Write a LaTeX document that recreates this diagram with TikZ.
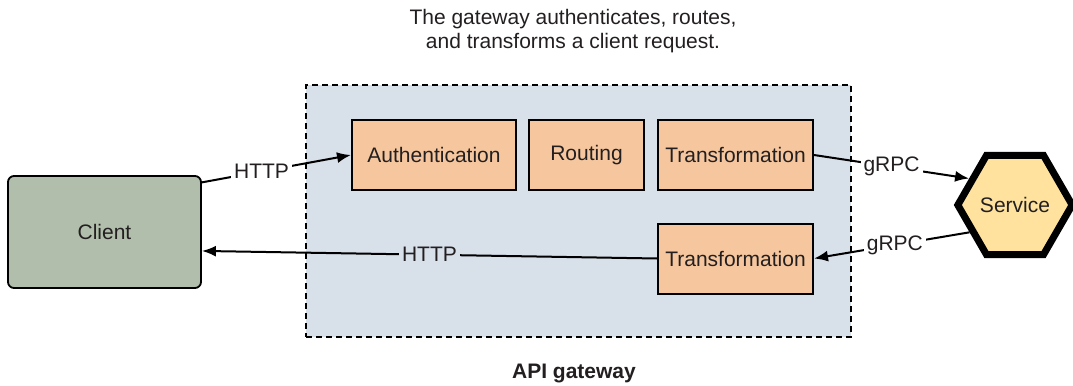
\documentclass[tikz,border=0pt]{standalone}
\usepackage{fontspec}
\setmainfont{Liberation Sans}
\usetikzlibrary{arrows.meta,shapes.geometric}
\definecolor{gwfill}{HTML}{D8E0EA}
\definecolor{stagefill}{HTML}{F6C79E}
\definecolor{clientfill}{HTML}{B1BEAB}
\definecolor{servicefill}{HTML}{FEE29E}
\definecolor{inkgray}{HTML}{231F20}

\begin{document}
\begin{tikzpicture}[
  x=0.5pt, y=-0.5pt,
  font=\fontsize{10.5}{12}\selectfont,
  text=inkgray,
  gateway/.style={draw, dashed, dash pattern=on 3pt off 2pt, line width=0.8pt, fill=gwfill, minimum width=272.5pt, minimum height=126pt},
  stage/.style={draw, line width=1pt, fill=stagefill, minimum height=35pt, inner sep=2pt},
  clientbox/.style={draw, line width=0.9pt, rounded corners=3pt, fill=clientfill, minimum width=96.5pt, minimum height=56pt},
  servicehex/.style={regular polygon, regular polygon sides=6, draw, line width=3.5pt, fill=servicefill, minimum size=56pt, inner sep=0pt},
  arrow/.style={-{Latex[length=7pt, width=5.5pt]}, line width=1pt},
  lbl/.style={fill=white, inner sep=1.5pt}
]
\useasboundingbox (0,0) rectangle (1073,386);

% title and gateway frame
\node[align=center] (title) at (573,31) {The gateway authenticates, routes,\\and transforms a client request.};
\node[gateway] (gw) at (578.5,211) {};
\node[font=\fontsize{10.5}{12}\bfseries] (gwname) at (574,373) {API gateway};

% stages inside the gateway
\node[stage, minimum width=82pt] (auth) at (434,155) {Authentication};
\node[stage, minimum width=57.5pt] (routing) at (586.5,155) {Routing};
\node[stage, minimum width=77.5pt] (transin) at (735.5,155) {Transformation};
\node[stage, minimum width=77.5pt] (transout) at (735.5,258.5) {Transformation};

% client and service
\node[clientbox] (client) at (104.5,232) {Client};
\node[servicehex] (service) at (1015,205) {Service};

% requests and responses
\draw[arrow] (client.27) -- node[lbl, pos=0.4] {HTTP} (auth.west);
\draw[arrow] (transin.east) -- node[lbl] {gRPC} (service.150);
\draw[arrow] (service.211) -- node[lbl, pos=0.48] {gRPC} (transout.east);
\draw[arrow] (transout.west) -- node[lbl, fill=gwfill] {HTTP} (client.-11);

\end{tikzpicture}
\end{document}
